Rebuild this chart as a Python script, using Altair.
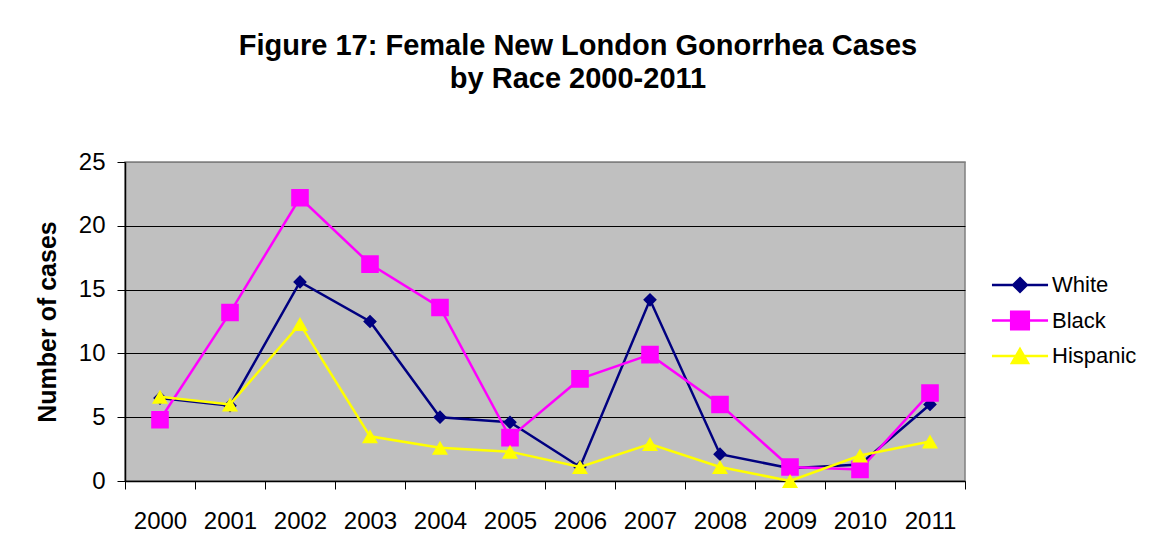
import altair as alt
import pandas as pd

years = list(range(2000, 2012))
series = ["White", "Black", "Hispanic"]
white = [6.5, 5.9, 15.6, 12.5, 5.0, 4.6, 1.1, 14.2, 2.1, 1.0, 1.3, 6.0]
black = [4.8, 13.2, 22.2, 17.0, 13.6, 3.4, 8.0, 9.9, 6.0, 1.1, 0.9, 6.9]
hispanic = [6.6, 6.0, 12.3, 3.5, 2.6, 2.3, 1.1, 2.9, 1.1, 0.0, 2.0, 3.1]
colors = ["#000080", "#FF00FF", "#FFFF00"]
# marker shapes (unit = half of sqrt(symbol size)); the horizontal segment is
# only stroked in the legend, the chart markers have no stroke
marker_paths = [
    "M-4.3,0H4.3M0,-1.05L1.05,0L0,1.05L-1.05,0Z",
    "M-4.3,0H4.3M-1.35,-1.35H1.35V1.35H-1.35Z",
    "M-4.3,0H4.3M0,-1.07L1.23,1.07H-1.23Z",
]
boundaries = [y - 0.5 for y in years] + [years[-1] + 0.5]

rows = []
for name, vals in zip(series, [white, black, hispanic]):
    for yr, v in zip(years, vals):
        rows.append({"year": yr, "race": name, "cases": v})
df = pd.DataFrame(rows)

FONT = "Liberation Sans"
xscale = alt.Scale(domain=[1999.5, 2011.5], nice=False, zero=False)
yscale = alt.Scale(domain=[0, 25], nice=False)


def cscale():
    return alt.Scale(domain=series, range=colors)


def legend():
    return alt.Legend(
        title=None, orient="none", legendX=884, legendY=112,
        labelFont=FONT, labelFontSize=22, labelColor="black",
        labelOffset=21, symbolSize=170, symbolStrokeWidth=2.5,
        rowPadding=9.5, padding=0,
    )


yaxis = alt.Axis(
    values=[0, 5, 10, 15, 20, 25], title="Number of cases", titleFont=FONT,
    titleFontSize=25, titleFontWeight="bold", titleColor="black", titlePadding=18,
    labelFont=FONT, labelFontSize=24, labelColor="black", labelPadding=12,
    tickSize=8, tickColor="black", domainColor="black", domainWidth=1.5,
    grid=True,
    gridColor={"condition": {"test": "datum.value >= 25", "value": "#808080"}, "value": "#000000"},
    gridWidth=1,
)
xaxis_labels = alt.Axis(
    values=years, format="d", orient="bottom", title=None, ticks=False, tickSize=0,
    labelFont=FONT, labelFontSize=24, labelColor="black", labelPadding=28,
    domainColor="black", domainWidth=1.5, grid=False,
)
xaxis_ticks = alt.Axis(
    values=boundaries, orient="bottom", title=None, labels=False, ticks=True,
    tickSize=8, tickColor="black", domain=False, grid=False,
)

base = alt.Chart(df)
layers = []
for i, name in enumerate(series):
    if i == 0:
        xa = xaxis_labels
    elif i == 1:
        xa = xaxis_ticks
    else:
        xa = None
    sub = base.transform_filter(alt.datum.race == name)
    line = sub.mark_line(strokeWidth=2.5).encode(
        x=alt.X("year:Q", scale=xscale, axis=xa),
        y=alt.Y("cases:Q", scale=yscale, axis=yaxis if i == 0 else None),
        color=alt.Color("race:N", scale=alt.Scale(domain=series[::-1], range=colors[::-1]),
                        legend=None),
    )
    pts = sub.mark_point(filled=True, opacity=1).encode(
        x=alt.X("year:Q", scale=xscale, axis=None),
        y=alt.Y("cases:Q", scale=yscale, axis=None),
        fill=alt.Fill("race:N", scale=cscale(), legend=legend()),
        stroke=alt.Stroke("race:N", scale=cscale(), legend=legend()),
        shape=alt.Shape("race:N", scale=alt.Scale(domain=series, range=marker_paths),
                        legend=legend()),
        size=alt.value(170),
        strokeWidth=alt.value(0),
    )
    layers += [line, pts]

chart = alt.layer(*layers).resolve_axis(x="independent", y="independent").properties(
    width=840, height=319,
    autosize=alt.AutoSizeParams(type="none"),
    padding={"left": 117, "top": 154, "right": 182, "bottom": 69},
    title=alt.TitleParams(
        text=["Figure 17: Female New London Gonorrhea Cases", "by Race 2000-2011"],
        font=FONT, fontSize=29, fontWeight="bold", color="black", lineHeight=33,
        anchor="middle", frame="group", dx=33, offset=56,
    ),
).configure(background="white").configure_view(
    fill="#C0C0C0", stroke="#808080", strokeWidth=1.5
)

chart.save("out.html", embed_options={"renderer": "svg", "actions": False})
